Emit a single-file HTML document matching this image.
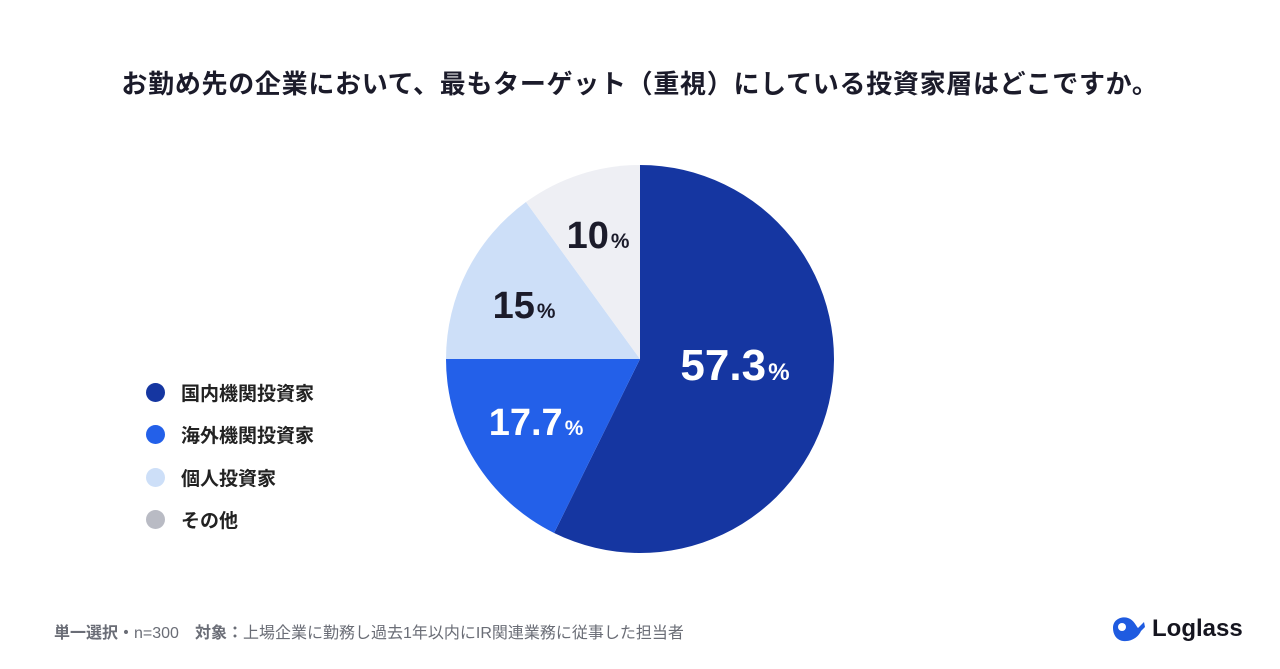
<!DOCTYPE html>
<html><head><meta charset="utf-8">
<style>
body{margin:0;width:1280px;height:669px;background:#fff;overflow:hidden;font-family:"Liberation Sans","Noto Sans CJK JP",sans-serif;position:relative}
.title{position:absolute;top:64px;left:0;width:1280px;text-align:center;font-size:26px;font-weight:bold;color:#1b1b2a;letter-spacing:0.7px}
.leg{position:absolute;left:146px;display:flex;align-items:center;font-size:19px;font-weight:bold;color:#222}
.dot{width:19px;height:19px;border-radius:50%;margin-right:16px}
.foot{position:absolute;left:54px;top:619px;font-size:16px;color:#6a6d76;font-weight:bold}
.foot span{font-weight:normal}
.logo{position:absolute;left:1110px;top:614px;display:flex;align-items:center;font-size:24px;font-weight:bold;color:#15151f}
</style></head><body>
<div class="title">お勤め先の企業において、最もターゲット（重視）にしている投資家層はどこですか。</div>
<svg id="pie" width="1280" height="669" style="position:absolute;left:0;top:0"></svg>
<div id="legend"></div>
<div class="foot">単一選択・<span>n=300</span>　対象：<span>上場企業に勤務し過去1年以内にIR関連業務に従事した担当者</span></div>
<div class="logo">
<svg width="38" height="30" viewBox="0 0 38 30" style="margin-right:4px"><path d="M3 14 C3 5 12 2 18 4 C24 6 26 12 28 14 L34 8 L35 13 L31 17 C28 24 20 28 13 27 C6 26 3 20 3 14 Z" fill="#1f5be0"/><circle cx="12" cy="13" r="4" fill="#fff"/></svg>Loglass</div>
<script>
const categories=["国内機関投資家","海外機関投資家","個人投資家","その他"];
const values=[57.3,17.7,15,10];
const labels=["57.3","17.7","15","10"];
const colors=["#1536a1","#2360e9","#cddff8","#eeeff4"];
const legendColors=["#1536a1","#2360e9","#cddff8","#b9bbc4"];
const textColors=["#fff","#fff","#1b1b2a","#1b1b2a"];
const fontSizes=[44,38,38,38];
// layout: label center offset from pie center (x) and baseline offset (y)
const labelOffsets=[[95,21],[-104,76],[-116,-41],[-42,-111]];
const cx=640,cy=359,R=194;
const svg=document.getElementById('pie');
const NS="http://www.w3.org/2000/svg";
const total=values.reduce((a,b)=>a+b,0);
let acc=0;
function pt(a,r){return [cx+r*Math.sin(a),cy-r*Math.cos(a)];}
values.forEach((v,i)=>{
  const a0=acc/total*2*Math.PI; acc+=v; const a1=acc/total*2*Math.PI;
  const p0=pt(a0,R),p1=pt(a1,R);
  const path=document.createElementNS(NS,'path');
  path.setAttribute('d',`M${cx},${cy} L${p0[0]},${p0[1]} A${R},${R} 0 ${a1-a0>Math.PI?1:0} 1 ${p1[0]},${p1[1]} Z`);
  path.setAttribute('fill',colors[i]);
  
  
  svg.appendChild(path);
  const t=document.createElementNS(NS,'text');
  t.setAttribute('x',cx+labelOffsets[i][0]);t.setAttribute('y',cy+labelOffsets[i][1]);
  t.setAttribute('text-anchor','middle');t.setAttribute('fill',textColors[i]);
  t.setAttribute('font-weight','bold');t.setAttribute('font-size',fontSizes[i]);
  t.setAttribute('font-family','"Liberation Sans",sans-serif');
  
  
  t.innerHTML=labels[i]+'<tspan font-size="'+(fontSizes[i]*0.55)+'" dx="2">%</tspan>';
  svg.appendChild(t);
});
const lg=document.getElementById('legend');
categories.forEach((c,i)=>{
  const d=document.createElement('div');d.className='leg';d.style.top=(379+i*42.3)+'px';
  
  
  d.innerHTML='<div class="dot" style="background:'+legendColors[i]+'"></div>'+c;
  lg.appendChild(d);
});
</script>
</body></html>
